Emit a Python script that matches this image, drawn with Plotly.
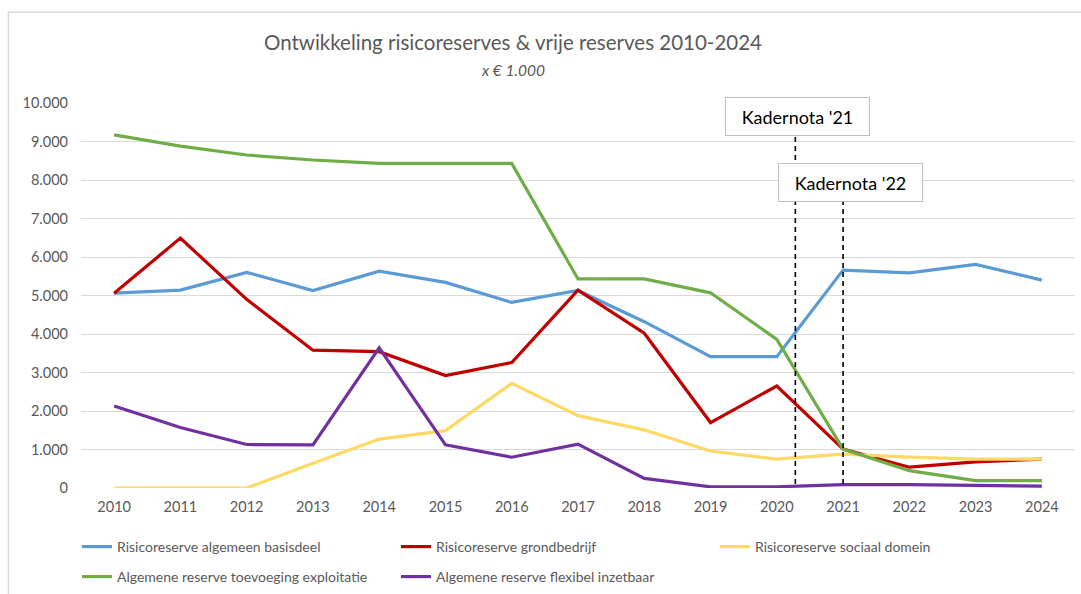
import plotly.graph_objects as go

years = list(range(2010, 2025))
basisdeel = [5060, 5140, 5600, 5130, 5630, 5340, 4820, 5130, 4320, 3410, 3410, 5660, 5590, 5810, 5400]
grondbedrijf = [5060, 6490, 4900, 3580, 3540, 2920, 3260, 5140, 4020, 1700, 2650, 1010, 540, 680, 750]
sociaal = [0, 0, 0, 640, 1270, 1490, 2720, 1880, 1510, 960, 750, 880, 800, 750, 750]
exploitatie = [9170, 8880, 8650, 8520, 8430, 8430, 8430, 5430, 5430, 5070, 3860, 1010, 450, 190, 190]
flexibel = [2130, 1570, 1130, 1120, 3640, 1120, 800, 1140, 250, 30, 30, 90, 90, 80, 50]

series_names = [
    "Risicoreserve algemeen basisdeel",
    "Risicoreserve grondbedrijf",
    "Risicoreserve sociaal domein",
    "Algemene reserve toevoeging exploitatie",
    "Algemene reserve flexibel inzetbaar",
]
series_values = [basisdeel, grondbedrijf, sociaal, exploitatie, flexibel]
series_colors = ["#5B9BD5", "#C00000", "#FFD966", "#70AD47", "#7030A0"]
series_legend = ["legend", "legend", "legend", "legend2", "legend2"]

y_ticks = [0, 1000, 2000, 3000, 4000, 5000, 6000, 7000, 8000, 9000, 10000]
y_tick_labels = ["0", "1.000", "2.000", "3.000", "4.000", "5.000", "6.000", "7.000", "8.000", "9.000", "10.000"]

markers = ["Kadernota '21", "Kadernota '22"]
marker_x = [2020.28, 2021.0]
marker_top = [9170, 7450]
marker_box_y = [9660, 7940]
marker_xshift = [2, 7]

FONT = "Lato"
GRAY = "#595959"

fig = go.Figure()
for name, vals, col, lg in zip(series_names, series_values, series_colors, series_legend):
    fig.add_trace(go.Scatter(
        x=years, y=vals, name=name, mode="lines",
        line=dict(color=col, width=3.2),
        legend=lg,
    ))

shapes = []
# outer chart border
shapes.append(dict(type="rect", xref="paper", yref="paper",
                   x0=-0.0730, x1=1.02, y0=-0.30, y1=1.2355,
                   line=dict(color="#d9d9d9", width=1.5), fillcolor="rgba(0,0,0,0)", layer="below"))
for mx, top in zip(marker_x, marker_top):
    shapes.append(dict(type="line", xref="x", yref="y", x0=mx, x1=mx, y0=-130, y1=top,
                       line=dict(color="black", width=1.6, dash="5px,4px"), layer="above"))

annotations = []
for txt, mx, by, xs in zip(markers, marker_x, marker_box_y, marker_xshift):
    annotations.append(dict(
        x=mx, y=by, xref="x", yref="y", text=txt, showarrow=False,
        xanchor="center", yanchor="middle", xshift=xs,
        font=dict(family=FONT, size=18, color="black"),
        bgcolor="white", bordercolor="#BFBFBF", borderwidth=1,
        width=141, height=35, borderpad=1,
    ))
annotations.append(dict(
    x=(513 - 81) / 994, y=(488 - 70) / 385, xref="paper", yref="paper", text="<i>x € 1.000</i>",
    showarrow=False, xanchor="center", yanchor="middle",
    font=dict(family=FONT, size=15.5, color=GRAY),
))

fig.update_layout(
    width=1081, height=594,
    margin=dict(l=81, r=6, t=103, b=106, autoexpand=False),
    paper_bgcolor="white", plot_bgcolor="white",
    title=dict(text="Ontwikkeling risicoreserves & vrije reserves 2010-2024",
               x=513 / 1081, xref="container", xanchor="center",
               y=1 - 43 / 594, yref="container", yanchor="middle",
               font=dict(family=FONT, size=20.5, color=GRAY)),
    font=dict(family=FONT, size=14, color=GRAY),
    xaxis=dict(range=[2009.5, 2024.5], tickvals=years, ticktext=[str(y) for y in years],
               showgrid=False, zeroline=False, showline=False, ticks="",
               ticklabelstandoff=8, tickfont=dict(family=FONT, size=14.5, color=GRAY)),
    yaxis=dict(range=[0, 10000], tickvals=y_ticks, ticktext=y_tick_labels,
               showgrid=True, gridcolor="#D9D9D9", gridwidth=1, zeroline=False,
               showline=False, ticks="", ticklabelstandoff=12,
               tickfont=dict(family=FONT, size=14.5, color=GRAY)),
    legend=dict(orientation="h", x=-0.004, xanchor="left", y=(488 - 547) / 385, yanchor="middle",
                entrywidth=274, font=dict(family=FONT, size=14, color=GRAY),
                bgcolor="rgba(0,0,0,0)", traceorder="normal"),
    legend2=dict(orientation="h", x=-0.004, xanchor="left", y=(488 - 577) / 385, yanchor="middle",
                 entrywidth=274, font=dict(family=FONT, size=14, color=GRAY),
                 bgcolor="rgba(0,0,0,0)", traceorder="normal"),
    shapes=shapes,
    annotations=annotations,
    showlegend=True,
)

fig.write_html("out.html")
